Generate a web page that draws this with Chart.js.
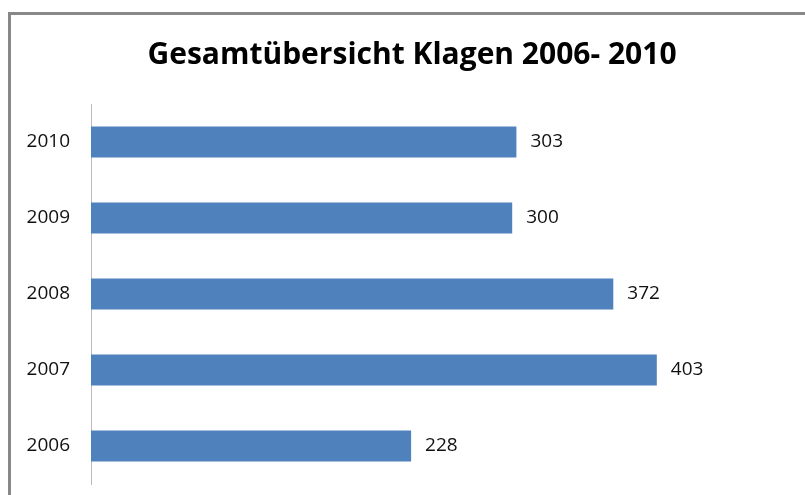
<!DOCTYPE html>
<html>
<head>
<meta charset="utf-8">
<script src="https://cdn.jsdelivr.net/npm/chart.js@4"></script>
<style>
  html, body { margin: 0; padding: 0; background: #fff; }
  #wrap { width: 805px; height: 495px; position: relative; }
</style>
</head>
<body>
<div id="wrap"><canvas id="c" width="805" height="495"></canvas></div>
<script>
const years = ['2006', '2007', '2008', '2009', '2010'];
const klagen = [228, 403, 372, 300, 303];
const titleText = 'Gesamtübersicht Klagen 2006- 2010';

// Excel-style frame: only the top and left edges fall inside the picture.
// Title drawn here too since Excel centres it on the frame, not the canvas.
const framePlugin = {
  id: 'frame',
  beforeDraw(chart) {
    const ctx = chart.ctx;
    ctx.save();
    ctx.fillStyle = '#fff';
    ctx.fillRect(0, 0, chart.width, chart.height);
    ctx.fillStyle = '#888';
    ctx.fillRect(8, 12, chart.width - 8, 3);
    ctx.fillRect(8, 12, 3, chart.height - 12);
    ctx.font = 'bold 30px "Open Sans", sans-serif';
    ctx.fillStyle = '#000';
    ctx.textAlign = 'center';
    ctx.textBaseline = 'alphabetic';
    ctx.fillText(titleText, 412, 64);
    ctx.restore();
  },
};

// Value labels to the right of each bar end.
const valueLabels = {
  id: 'value-labels',
  afterDatasetsDraw(chart) {
    const ctx = chart.ctx;
    const meta = chart.getDatasetMeta(0);
    ctx.save();
    ctx.font = '19px "Open Sans", sans-serif';
    ctx.fillStyle = '#111';
    ctx.textAlign = 'left';
    ctx.textBaseline = 'middle';
    meta.data.forEach((bar, i) => {
      ctx.fillText(String(klagen[i]), bar.x + 14, bar.y);
    });
    ctx.restore();
  },
};

new Chart(document.getElementById('c'), {
  type: 'bar',
  data: {
    labels: years,
    datasets: [{
      data: klagen,
      backgroundColor: '#4f81bd',
      borderWidth: 0,
      categoryPercentage: 1,
      barPercentage: 0.41,
    }],
  },
  options: {
    indexAxis: 'y',
    responsive: false,
    animation: false,
    layout: { padding: { left: 0, right: 12, top: 104, bottom: 11 } },
    scales: {
      x: { display: false, min: 0, max: 500 },
      y: {
        reverse: true,
        // fixed axis position; drop the tick padding chart.js adds above/below
        afterFit(scale) { scale.width = 91; scale.paddingTop = 0; scale.paddingBottom = 0; },
        grid: { display: false, drawTicks: false },
        border: { display: true, color: '#bbb', width: 1 },
        ticks: { color: '#111', padding: 21, font: { family: '"Open Sans", sans-serif', size: 19 } },
      },
    },
    plugins: {
      legend: { display: false },
      tooltip: { enabled: false },
      title: { display: false },
    },
  },
  plugins: [framePlugin, valueLabels],
});
</script>
</body>
</html>
